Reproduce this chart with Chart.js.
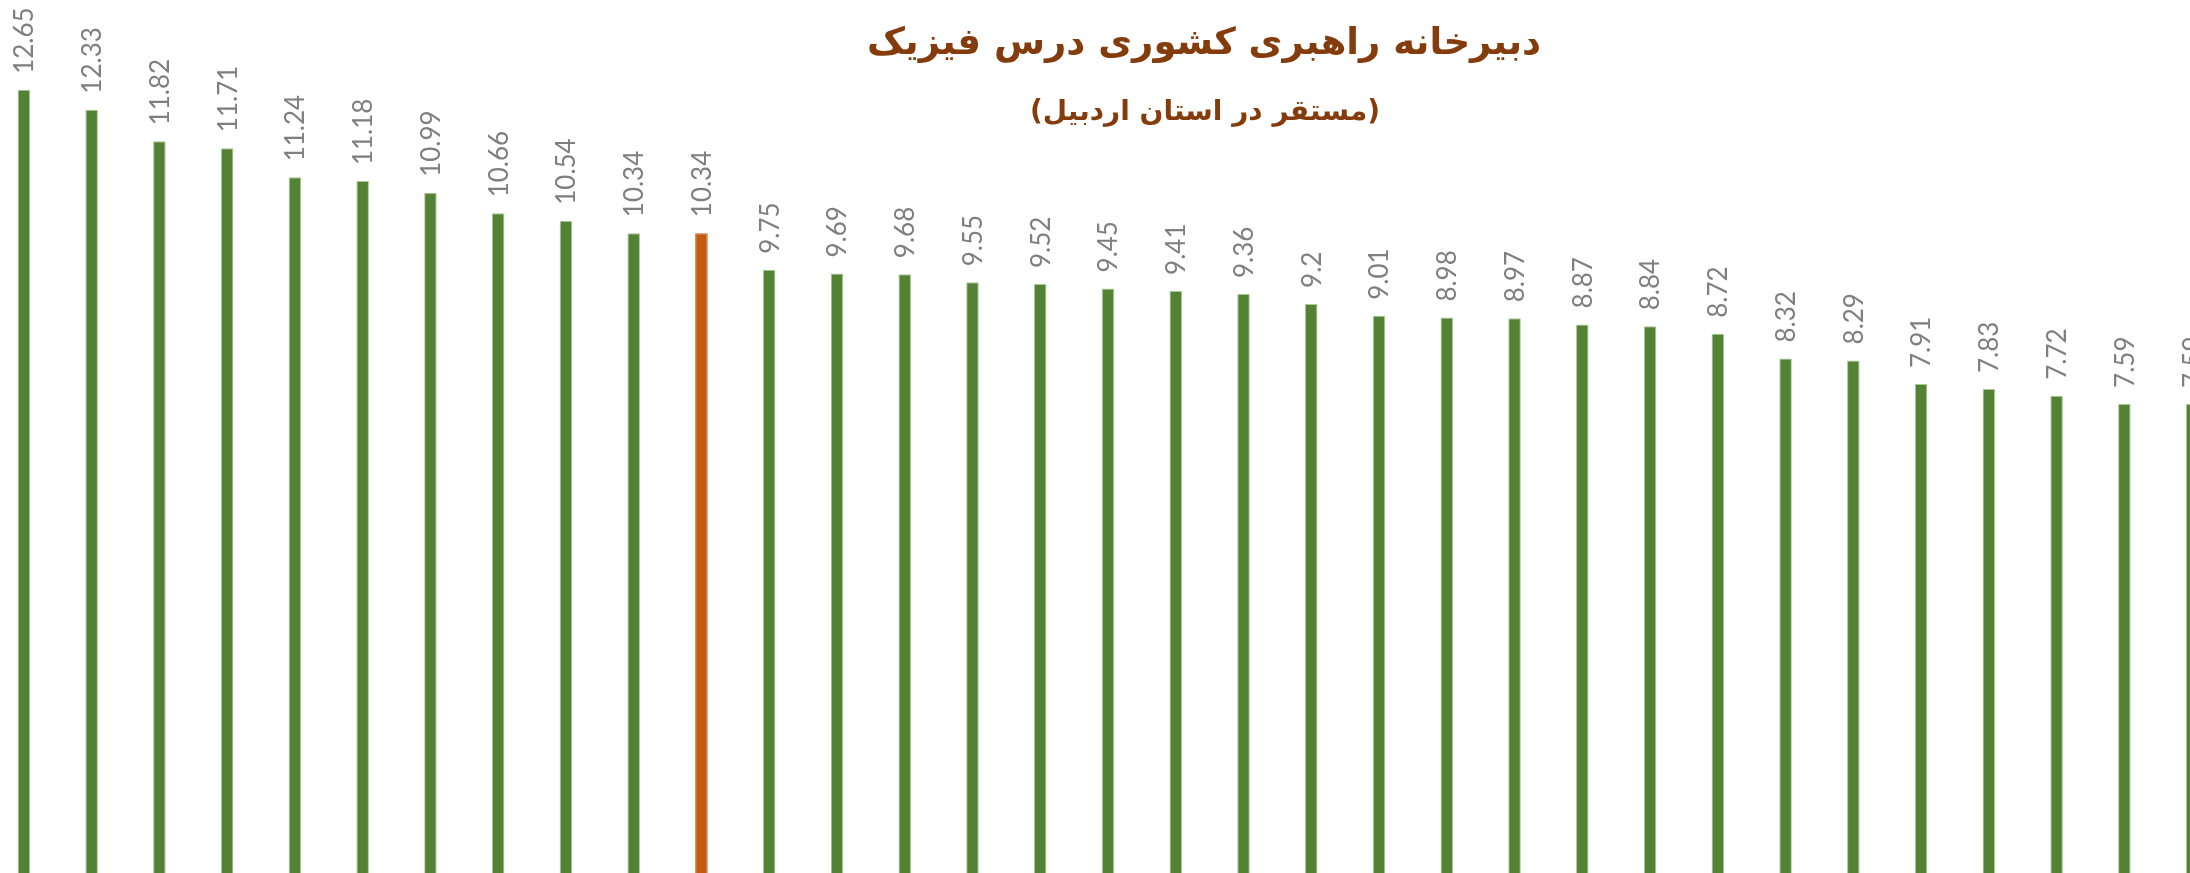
<!DOCTYPE html>
<html lang="fa">
<head>
<meta charset="utf-8">
<title>دبیرخانه راهبری کشوری درس فیزیک</title>
<script src="https://cdn.jsdelivr.net/npm/chart.js@4/dist/chart.umd.min.js"></script>
<style>
    html, body { margin: 0; padding: 0; background: #ffffff; overflow: hidden; }
    body { width: 2190px; height: 873px; position: relative; }
    #chart { position: absolute; left: -10px; top: 0; }
</style>
</head>
<body>
<canvas id="chart" width="2236" height="875"></canvas>
<script>
// Chart data
const categories = ['1', '2', '3', '4', '5', '6', '7', '8', '9', '10', '11',
    '12', '13', '14', '15', '16', '17', '18', '19', '20', '21', '22',
    '23', '24', '25', '26', '27', '28', '29', '30', '31', '32', '33'];
const scores = [12.65, 12.33, 11.82, 11.71, 11.24, 11.18, 10.99, 10.66, 10.54, 10.34, 10.34,
    9.75, 9.69, 9.68, 9.55, 9.52, 9.45, 9.41, 9.36, 9.2, 9.01, 8.98,
    8.97, 8.87, 8.84, 8.72, 8.32, 8.29, 7.91, 7.83, 7.72, 7.59, 7.59];
const highlightIndex = 10; // Ardabil province bar
const titleText = 'دبیرخانه راهبری کشوری درس فیزیک';
const subtitleText = '(مستقر در استان اردبیل)';

const GREEN = '#548235';
const ORANGE = '#C55A11';

const barColors = scores.map((v, i) => i === highlightIndex ? ORANGE : GREEN);
const barBorders = scores.map((v, i) => i === highlightIndex ? ORANGE : '#A9C996');

// Vertical value labels above each bar
const valueLabels = {
    id: 'valueLabels',
    afterDatasetsDraw(chart) {
        const ctx = chart.ctx;
        const meta = chart.getDatasetMeta(0);
        ctx.save();
        ctx.fillStyle = '#7F7F7F';
        ctx.font = '26px Lato';
        ctx.textAlign = 'left';
        ctx.textBaseline = 'middle';
        meta.data.forEach((bar, i) => {
            ctx.save();
            ctx.translate(bar.x + 1, bar.y - 16);
            ctx.rotate(-Math.PI / 2);
            ctx.fillText(String(scores[i]), 0, 0);
            ctx.restore();
        });
        ctx.restore();
    }
};

// Title drawn over the plot like the original
const titleBlock = {
    id: 'titleBlock',
    afterDraw(chart) {
        const ctx = chart.ctx;
        ctx.save();
        ctx.fillStyle = '#843C0C';
        ctx.textAlign = 'center';
        ctx.textBaseline = 'middle';
        ctx.direction = 'rtl';
        ctx.font = 'bold 37px "DejaVu Sans"';
        ctx.fillText(titleText, 1214, 44);
        ctx.font = 'bold 28px "DejaVu Sans"';
        ctx.fillText(subtitleText, 1215, 113);
        ctx.restore();
    }
};

const ctx = document.getElementById('chart').getContext('2d');
const chart = new Chart(ctx, {
    type: 'bar',
    data: {
        labels: categories,
        datasets: [{
            data: scores,
            backgroundColor: barColors,
            borderColor: barBorders,
            borderWidth: 1,
            borderSkipped: 'bottom',
            barPercentage: 0.185,
            categoryPercentage: 1.0
        }]
    },
    options: {
        responsive: false,
        animation: false,
        layout: { padding: { top: 6, bottom: 0, left: 0, right: 0 } },
        scales: {
            x: { display: false },
            y: { display: false, min: 0, max: 14 }
        },
        plugins: {
            legend: { display: false },
            tooltip: { enabled: false }
        }
    },
    plugins: [valueLabels, titleBlock]
});
</script>
</body>
</html>
